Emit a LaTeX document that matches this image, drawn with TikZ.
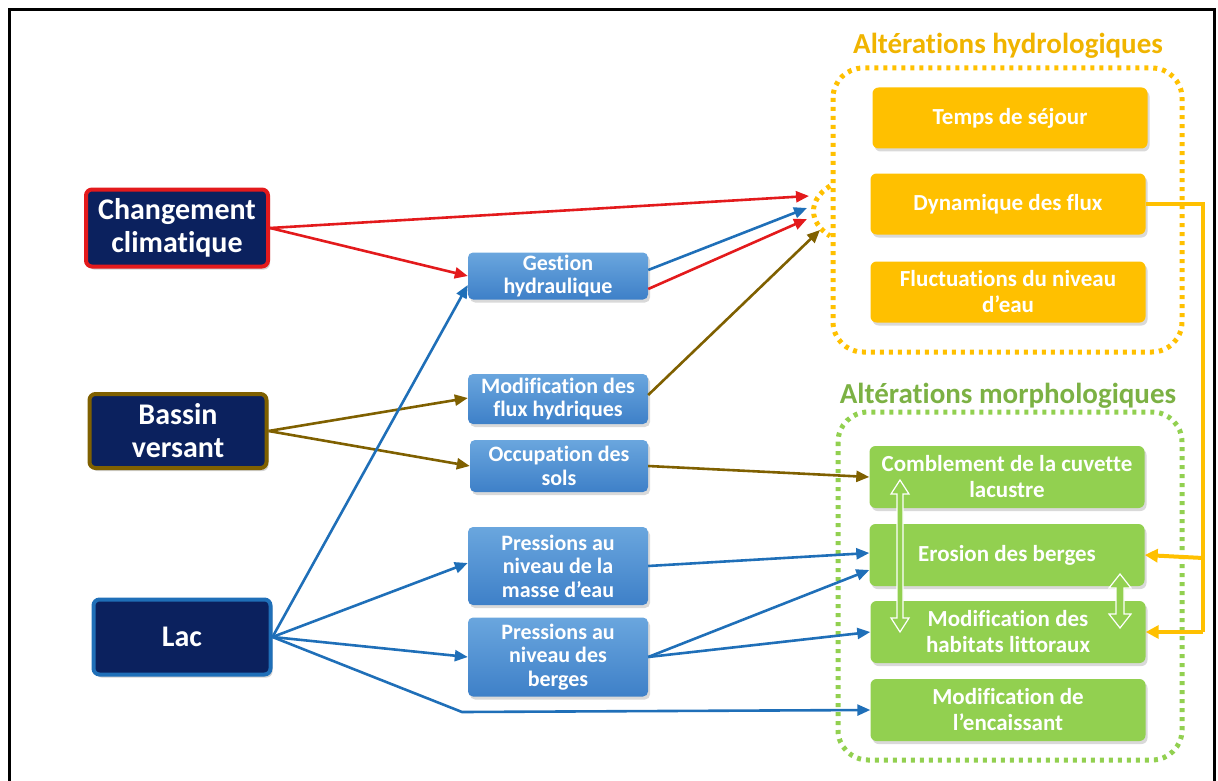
\documentclass[tikz,border=0pt]{standalone}
\usepackage{fontspec}
\setmainfont{Carlito}[Ligatures=NoCommon]
\usetikzlibrary{arrows.meta,shadows,calc}
\definecolor{navy}{HTML}{0B215E}
\definecolor{redb}{HTML}{E31A1C}
\definecolor{brownb}{HTML}{7F6000}
\definecolor{blueb}{HTML}{1F6FB8}
\definecolor{midtop}{HTML}{6AA6DE}
\definecolor{midbot}{HTML}{3E80C8}
\definecolor{orangeb}{HTML}{FFC000}
\definecolor{greenb}{HTML}{92D050}
\definecolor{hydtxt}{HTML}{F0B400}
\tikzset{
  srcbox/.style={draw, line width=4pt, fill=navy, rounded corners=6pt, text=white,
    font=\bfseries\fontsize{30}{33}\selectfont, align=center,
    drop shadow={opacity=0.35,shadow xshift=2pt,shadow yshift=-3pt}},
  midbox/.style={rounded corners=5pt, top color=midtop, bottom color=midbot, text=white,
    font=\bfseries\fontsize{22}{23.5}\selectfont, align=center, inner sep=1pt,
    drop shadow={opacity=0.3,shadow xshift=2pt,shadow yshift=-3pt}},
  hydbox/.style={rounded corners=6pt, fill=orangeb, text=white,
    font=\bfseries\fontsize{23}{26}\selectfont, align=center, inner sep=1pt,
    minimum width=275pt, minimum height=61pt,
    drop shadow={opacity=0.3,shadow xshift=2pt,shadow yshift=-3pt}},
  morbox/.style={rounded corners=6pt, fill=greenb, text=white,
    font=\bfseries\fontsize{23}{26}\selectfont, align=center, inner sep=1pt,
    minimum width=275pt, minimum height=62pt,
    drop shadow={opacity=0.3,shadow xshift=2pt,shadow yshift=-3pt}},
  grp/.style={line width=5pt, dash pattern=on 4pt off 5pt, rounded corners=30pt},
  conn/.style={line width=2.6pt, -{Triangle[length=13pt,width=11pt]}},
  grptitle/.style={font=\bfseries\fontsize{29}{31}\selectfont},
}
\begin{document}
\begin{tikzpicture}[x=1pt,y=-1pt]
\useasboundingbox (0,0) rectangle (1218,781);
\draw[line width=3.5pt] (9.5,781) -- (9.5,9.5) -- (1214.5,9.5) -- (1214.5,781);

% groups
\draw[grp, orangeb] (833,68) rectangle (1182,352);
\node[grptitle, text=hydtxt] (th) at (1008,46) {Altérations hydrologiques};
\draw[grp, greenb] (838,412) rectangle (1182,760);
\node[grptitle, text=greenb!85!black] (tm) at (1008,396) {Altérations morphologiques};
\draw[line width=5pt, dash pattern=on 4pt off 4.5pt, orangeb] (830,186) .. controls (808,200) and (808,222) .. (830,236);

% source nodes
\node[srcbox, draw=redb, minimum width=182pt, minimum height=77pt] (cc) at (177,228) {Changement\\climatique};
\node[srcbox, draw=brownb, minimum width=177pt, minimum height=74pt] (bv) at (178,431) {Bassin\\versant};
\node[srcbox, draw=blueb, minimum width=177pt, minimum height=75pt] (lac) at (182,637) {Lac};

% middle nodes
\node[midbox, minimum width=180pt, minimum height=47pt] (gh) at (558,276) {Gestion\\hydraulique};
\node[midbox, minimum width=180pt, minimum height=50pt] (mf) at (558,399) {Modification des\\flux hydriques};
\node[midbox, minimum width=178pt, minimum height=52pt] (os) at (559,466) {Occupation des\\sols};
\node[midbox, minimum width=180pt, minimum height=78pt] (pm) at (558,566) {Pressions au\\niveau de la\\masse d’eau};
\node[midbox, minimum width=180pt, minimum height=79pt] (pb) at (558,657) {Pressions au\\niveau des\\berges};

% hydro nodes
\node[hydbox] (ts) at (1010,118) {Temps de séjour};
\node[hydbox] (df) at (1008,204) {Dynamique des flux};
\node[hydbox] (fn) at (1008,292) {Fluctuations du niveau\\d’eau};

% morpho nodes
\node[morbox] (cb) at (1007,477) {Comblement de la cuvette\\lacustre};
\node[morbox] (eb) at (1007,555) {Erosion des berges};
\node[morbox] (mh) at (1008,632) {Modification des\\habitats littoraux};
\node[morbox] (me) at (1008,710) {Modification de\\l’encaissant};

% targets at hydro group
\coordinate (h1) at (809,196);
\coordinate (h2) at (807,208);
\coordinate (h3) at (807,219);
\coordinate (h4) at (820,230);
\coordinate (lk) at (462,712);
\coordinate (oj) at (1203,204);
\coordinate (oa) at (1203,558);
\coordinate (ob) at (1203,632);

% red
\draw[conn, redb] (cc.east) -- (h1);
\draw[conn, redb] (cc.east) -- (gh.west);
\draw[conn, blueb] ([yshift=6pt]gh.east) -- (h2);
\draw[conn, redb] ([yshift=-13pt]gh.east) -- (h3);
% brown
\draw[conn, brownb] ([yshift=4pt]mf.east) -- (h4);
\draw[conn, brownb] (bv.east) -- ([yshift=1pt]mf.west);
\draw[conn, brownb] (bv.east) -- (os.west);
\draw[conn, brownb] (os.east) -- (cb.west);
% blue from lac
\draw[conn, blueb] (lac.east) -- ([yshift=-9pt]gh.west);
\draw[conn, blueb] (lac.east) -- ([yshift=3pt]pm.west);
\draw[conn, blueb] (lac.east) -- (pb.west);
\draw[conn, blueb] (lac.east) -- (lk) -- (me.west);
\draw[conn, blueb] (pm.east) -- ([yshift=2pt]eb.west);
\draw[conn, blueb] (pb.east) -- ([yshift=-15pt]eb.west);
\draw[conn, blueb] (pb.east) -- (mh.west);
% orange
\draw[line width=4pt, orangeb] (df.east) -- (oj) -- (ob);
\draw[line width=4pt, orangeb, -{Triangle[length=13pt,width=13pt]}] (ob) -- (mh.east);
\draw[line width=4pt, orangeb, -{Triangle[length=13pt,width=13pt]}] (oa) -- (eb.east);

% green double arrows
\draw[white, line width=1.2pt, fill=greenb]
  (900,480) -- (909,494) -- (903,494) -- (903,618) -- (909,618) -- (900,632) -- (891,618) -- (897,618) -- (897,494) -- (891,494) -- cycle;
\draw[white, line width=1.2pt, fill=greenb]
  (1120,574) -- (1131,588) -- (1124,588) -- (1124,614) -- (1131,614) -- (1120,628) -- (1109,614) -- (1116,614) -- (1116,588) -- (1109,588) -- cycle;
\end{tikzpicture}
\end{document}
